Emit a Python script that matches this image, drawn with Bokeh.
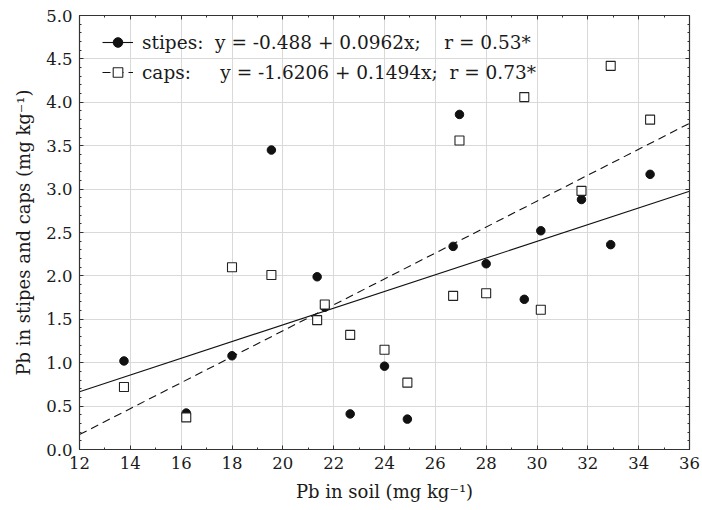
from bokeh.plotting import figure
from bokeh.models import (LinearAxis, SingleIntervalTicker, Legend, LegendItem, Range1d,
                          PrintfTickFormatter)
from bokeh.embed import file_html
from bokeh.resources import INLINE

# ---- data ----
soil = [13.75, 16.2, 18.0, 19.55, 21.35, 21.65, 22.65, 24.0, 24.9,
        26.7, 26.95, 28.0, 29.5, 30.15, 31.75, 32.9, 34.45]
stipes = [1.02, 0.42, 1.08, 3.45, 1.99, 1.64, 0.41, 0.96, 0.35,
          2.34, 3.86, 2.14, 1.73, 2.52, 2.88, 2.36, 3.17]
caps = [0.72, 0.37, 2.10, 2.01, 1.49, 1.67, 1.32, 1.15, 0.77,
        1.77, 3.56, 1.80, 4.06, 1.61, 2.98, 4.42, 3.80]

# regression coefficients (intercept, slope) as printed in the legend
stipes_fit = (-0.488, 0.0962)
caps_fit = (-1.6206, 0.1494)

x_range = (12, 36)
y_range = (0, 5)

stipes_label = "stipes:  y = -0.488 + 0.0962x;    r = 0.53*"
caps_label = "caps:     y = -1.6206 + 0.1494x;  r = 0.73*"
x_label = "Pb in soil (mg kg\u207b\u00b9)"
y_label = "Pb in stipes and caps (mg kg\u207b\u00b9)"

FONT = "DejaVu Serif"
TXT = "#1a1a1a"

p = figure(width=702, height=510, output_backend="svg", toolbar_location=None,
           x_range=Range1d(*x_range), y_range=Range1d(*y_range),
           x_axis_location=None, y_axis_location=None,
           min_border_left=79, min_border_right=13, min_border_top=15,
           min_border_bottom=61)
p.outline_line_color = None
p.background_fill_color = "white"
p.border_fill_color = "white"

xt = SingleIntervalTicker(interval=2, num_minor_ticks=2)
yt = SingleIntervalTicker(interval=0.5, num_minor_ticks=5)

bottom = LinearAxis(ticker=xt, axis_label=x_label)
left = LinearAxis(ticker=yt, axis_label=y_label,
                  formatter=PrintfTickFormatter(format="%.1f"))
right = LinearAxis(ticker=yt)
top = LinearAxis(ticker=xt)
p.add_layout(bottom, "below")
p.add_layout(left, "left")
p.add_layout(right, "right")
p.add_layout(top, "above")

p.xgrid.ticker = xt
p.ygrid.ticker = yt
p.grid.grid_line_color = "#d9d9d9"
p.grid.grid_line_width = 1

for ax in [bottom, left, right, top]:
    ax.axis_line_color = "#333333"
    ax.axis_line_width = 1.2
    ax.major_tick_in = 4
    ax.major_tick_out = 0
    ax.minor_tick_in = 2
    ax.minor_tick_out = 0
    ax.major_tick_line_color = "#333333"
    ax.minor_tick_line_color = "#333333"
    ax.major_label_text_font = FONT
    ax.major_label_text_font_size = "16.5px"
    ax.major_label_text_color = TXT
    ax.axis_label_text_font = FONT
    ax.axis_label_text_font_size = "18px"
    ax.axis_label_text_font_style = "normal"
    ax.axis_label_text_color = TXT

for ax in [right, top]:
    ax.major_label_text_font_size = "0px"
    ax.major_label_text_color = None
    ax.major_label_standoff = 0

bottom.major_label_standoff = 7
left.major_label_standoff = 7
bottom.axis_label_standoff = 9
left.axis_label_standoff = 9

xs = list(x_range)
ys_st = [stipes_fit[0] + stipes_fit[1] * v for v in xs]
ys_cp = [caps_fit[0] + caps_fit[1] * v for v in xs]

l1 = p.line(xs, ys_st, line_color="#111111", line_width=1.1)
l2 = p.line(xs, ys_cp, line_color="#111111", line_width=1.1, line_dash="8 5")

s1 = p.scatter(soil, stipes, marker="circle", size=8.5, fill_color="#111111",
               line_color="#111111")
s2 = p.scatter(soil, caps, marker="square", size=9, fill_color="white",
               line_color="#222222", line_width=1.1)

legend = Legend(items=[LegendItem(label=stipes_label, renderers=[l1, s1]),
                       LegendItem(label=caps_label, renderers=[l2, s2])],
                location=(23, 365), margin=0, padding=5, spacing=6,
                glyph_width=31, glyph_height=24, label_height=24,
                label_standoff=9, border_line_color=None,
                background_fill_alpha=0, label_text_font=FONT,
                label_text_font_size="18.5px", label_text_color=TXT)
p.add_layout(legend, "center")

open("out.html", "w").write(file_html(p, INLINE))
